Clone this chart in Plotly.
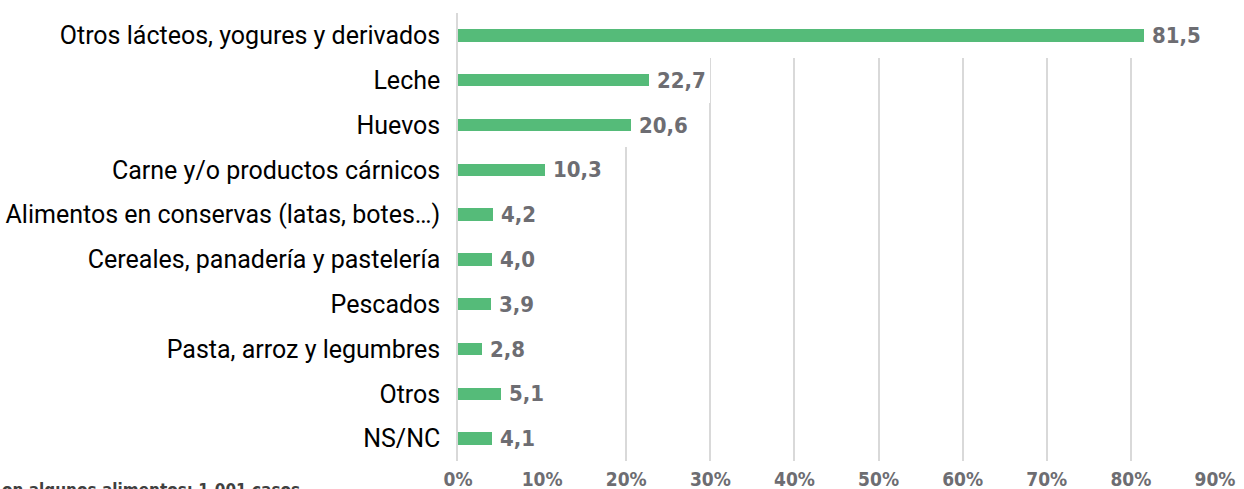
import plotly.graph_objects as go

# categorias de arriba a abajo
categorias = [
    "Otros lácteos, yogures y derivados",
    "Leche",
    "Huevos",
    "Carne y/o productos cárnicos",
    "Alimentos en conservas (latas, botes…)",
    "Cereales, panadería y pastelería",
    "Pescados",
    "Pasta, arroz y legumbres",
    "Otros",
    "NS/NC",
]
porcentajes = [81.5, 22.7, 20.6, 10.3, 4.2, 4.0, 3.9, 2.8, 5.1, 4.1]
ticks_x = [0, 10, 20, 30, 40, 50, 60, 70, 80, 90]
tick_text = [f"{t}%" for t in ticks_x]
nota = "on algunos alimentos: 1.001 casos"

VERDE = "#55bb79"
GRIS = "#6d6d72"

W, H = 1244, 489
ML, MR, MT, MB = 458, 29, 13, 28

fig = go.Figure()

# fondo blanco por fila (tapa la rejilla bajo barra + etiqueta, como en el original)
fig.add_trace(go.Bar(
    y=categorias, x=[v + 7.3 for v in porcentajes], orientation="h",
    width=1.0, marker=dict(color="white", line=dict(width=0)),
    hoverinfo="skip", showlegend=False,
))

fig.add_trace(go.Bar(
    y=categorias, x=porcentajes, orientation="h",
    width=0.28, marker=dict(color=VERDE, line=dict(width=0)),
    showlegend=False,
))

for cat, v in zip(categorias, porcentajes):
    fig.add_annotation(
        x=v, y=cat, xref="x", yref="y",
        text=f"{v:.1f}".replace(".", ","),
        showarrow=False, xanchor="left", xshift=6,
        font=dict(family="DejaVu Sans Condensed", size=22, color=GRIS, weight="bold"),
    )

# nota al pie, cortada por el borde inferior como en el original
fig.add_annotation(
    x=(302 - ML) / (W - ML - MR), y=(H - MB - 478) / (H - MT - MB),
    xref="paper", yref="paper",
    text=nota, showarrow=False, xanchor="right", yanchor="top",
    font=dict(family="DejaVu Sans Condensed", size=17, color="#404040", weight="bold"),
)

fig.update_layout(
    width=W, height=H,
    margin=dict(l=ML, r=MR, t=MT, b=MB),
    plot_bgcolor="white", paper_bgcolor="white",
    barmode="overlay",
    bargap=0,
    xaxis=dict(
        range=[0, 90], tickvals=ticks_x, ticktext=tick_text,
        showgrid=True, gridcolor="#d9d9d9", gridwidth=1.5,
        zeroline=False, showline=False, automargin=False,
        tickfont=dict(family="DejaVu Sans Condensed", size=19, color=GRIS, weight="bold"),
        ticklabelstandoff=5,
    ),
    yaxis=dict(
        autorange="reversed", automargin=False,
        showgrid=False, zeroline=False,
        showline=True, linecolor="#d9d9d9", linewidth=1.5, layer="above traces",
        tickfont=dict(family="Roboto", size=25, color="black"),
        ticklabelstandoff=11,
    ),
)

fig.write_html("out.html", config={"displayModeBar": False},
               post_script="document.body.style.margin='0px';")
